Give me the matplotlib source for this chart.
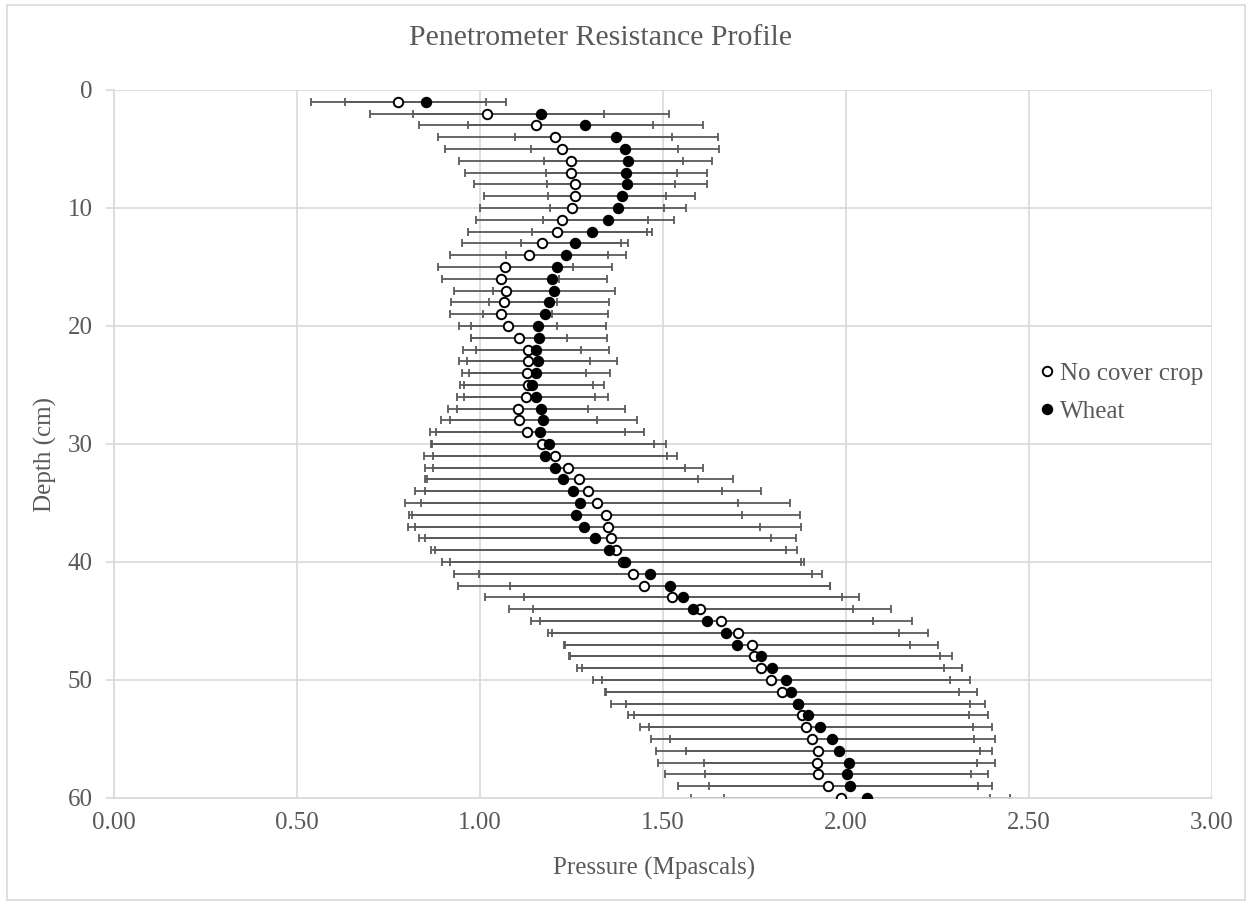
import matplotlib
matplotlib.use("Agg")
import matplotlib.pyplot as plt
from matplotlib.patches import Rectangle

plt.rcParams['font.family'] = ['Liberation Serif', 'DejaVu Serif']

# depth (cm)
depth = list(range(1, 61))

# No cover crop: mean pressure and error
no_cover = [0.777, 1.020, 1.153, 1.204, 1.223, 1.249, 1.249, 1.259, 1.259, 1.252,
            1.223, 1.211, 1.169, 1.135, 1.069, 1.057, 1.070, 1.066, 1.057, 1.077,
            1.106, 1.132, 1.132, 1.129, 1.132, 1.126, 1.103, 1.107, 1.129, 1.170,
            1.204, 1.240, 1.271, 1.296, 1.321, 1.345, 1.350, 1.357, 1.371, 1.391,
            1.417, 1.449, 1.524, 1.600, 1.659, 1.704, 1.742, 1.749, 1.767, 1.796,
            1.826, 1.870, 1.879, 1.892, 1.908, 1.924, 1.921, 1.923, 1.951, 1.985]
no_cover_err = [0.239, 0.320, 0.320, 0.320, 0.318, 0.306, 0.290, 0.275, 0.248, 0.252,
                0.235, 0.244, 0.217, 0.216, 0.184, 0.160, 0.141, 0.145, 0.139, 0.134,
                0.131, 0.143, 0.168, 0.160, 0.177, 0.188, 0.191, 0.214, 0.266, 0.305,
                0.333, 0.369, 0.420, 0.473, 0.526, 0.530, 0.528, 0.506, 0.494, 0.495,
                0.489, 0.508, 0.511, 0.522, 0.521, 0.519, 0.510, 0.507, 0.501, 0.487,
                0.484, 0.470, 0.457, 0.456, 0.441, 0.442, 0.436, 0.418, 0.411, 0.408]

# Wheat: mean pressure and error
wheat = [0.852, 1.167, 1.288, 1.372, 1.396, 1.405, 1.399, 1.402, 1.387, 1.376,
         1.351, 1.307, 1.259, 1.235, 1.211, 1.198, 1.202, 1.188, 1.178, 1.159,
         1.161, 1.153, 1.159, 1.153, 1.141, 1.153, 1.167, 1.173, 1.165, 1.188,
         1.178, 1.205, 1.226, 1.255, 1.272, 1.261, 1.283, 1.315, 1.352, 1.397,
         1.465, 1.520, 1.554, 1.582, 1.619, 1.671, 1.702, 1.768, 1.798, 1.836,
         1.851, 1.868, 1.896, 1.930, 1.962, 1.982, 2.009, 2.002, 2.012, 2.057]
wheat_err = [0.220, 0.350, 0.320, 0.277, 0.257, 0.229, 0.220, 0.218, 0.200, 0.186,
             0.180, 0.164, 0.146, 0.165, 0.149, 0.150, 0.166, 0.164, 0.171, 0.184,
             0.186, 0.200, 0.216, 0.203, 0.197, 0.197, 0.230, 0.255, 0.284, 0.320,
             0.332, 0.354, 0.370, 0.405, 0.432, 0.455, 0.481, 0.481, 0.485, 0.479,
             0.469, 0.437, 0.435, 0.437, 0.454, 0.473, 0.472, 0.522, 0.518, 0.502,
             0.507, 0.511, 0.491, 0.468, 0.444, 0.418, 0.398, 0.386, 0.386, 0.391]

x_ticks = [0.0, 0.5, 1.0, 1.5, 2.0, 2.5, 3.0]
y_ticks = [0, 10, 20, 30, 40, 50, 60]

txt = "#595959"
grid = "#d9d9d9"
bar = "#5a5a5a"

fig = plt.figure(figsize=(12.5, 9.07), dpi=100)
ax = fig.add_axes([114 / 1250, 1 - 798 / 907, (1212 - 114) / 1250, (798 - 90) / 907])

# error bars first, markers on top
ax.errorbar(no_cover, depth, xerr=no_cover_err, fmt="none", ecolor=bar,
            elinewidth=1.3, capsize=3, capthick=1.3, zorder=2)
ax.errorbar(wheat, depth, xerr=wheat_err, fmt="none", ecolor=bar,
            elinewidth=1.3, capsize=3, capthick=1.3, zorder=2)
ax.plot(no_cover, depth, ls="none", marker="o", ms=6.8, mfc="white", mec="black",
        mew=1.4, label="No cover crop", zorder=3)
ax.plot(wheat, depth, ls="none", marker="o", ms=6.8, mfc="black", mec="black",
        mew=1.4, label="Wheat", zorder=4)

ax.set_xlim(0, 3)
ax.set_ylim(60, 0)
ax.set_xticks(x_ticks)
ax.set_xticklabels([f"{v:.2f}" for v in x_ticks])
ax.set_yticks(y_ticks)
ax.grid(True, color=grid, linewidth=1.2, zorder=0)
ax.set_axisbelow(True)
for s in ["top", "right"]:
    ax.spines[s].set_visible(False)
for s in ["left", "bottom"]:
    ax.spines[s].set_color(grid)
    ax.spines[s].set_linewidth(1.2)
ax.tick_params(axis="x", length=0, pad=10, labelsize=18, labelcolor=txt)
ax.tick_params(axis="y", length=5.5, width=1.2, color=grid, pad=10,
               labelsize=18, labelcolor=txt)

ax.set_xlabel("Pressure (Mpascals)", fontsize=18, color=txt)
ax.xaxis.set_label_coords(0.4918, -0.083)
ax.set_ylabel("Depth (cm)", fontsize=18, color=txt)
ax.yaxis.set_label_coords(-0.052, 0.4845)
fig.text(0.4805, 1 - 38 / 907, "Penetrometer Resistance Profile", ha="center",
         va="center", fontsize=21.5, color=txt)

leg = ax.legend(loc="upper left", bbox_to_anchor=(1024 / 1250, 1 - 350 / 907),
                bbox_transform=fig.transFigure, frameon=False, borderpad=0,
                fontsize=18, labelcolor=txt, handlelength=0.8, handletextpad=0.15,
                labelspacing=0.6)

fig.patches.append(Rectangle((7 / 1250, 1 - 900 / 907), 1238 / 1250, 895 / 907,
                             transform=fig.transFigure, fill=False,
                             edgecolor=grid, linewidth=1.2))

fig.savefig("out.png", dpi=100)
